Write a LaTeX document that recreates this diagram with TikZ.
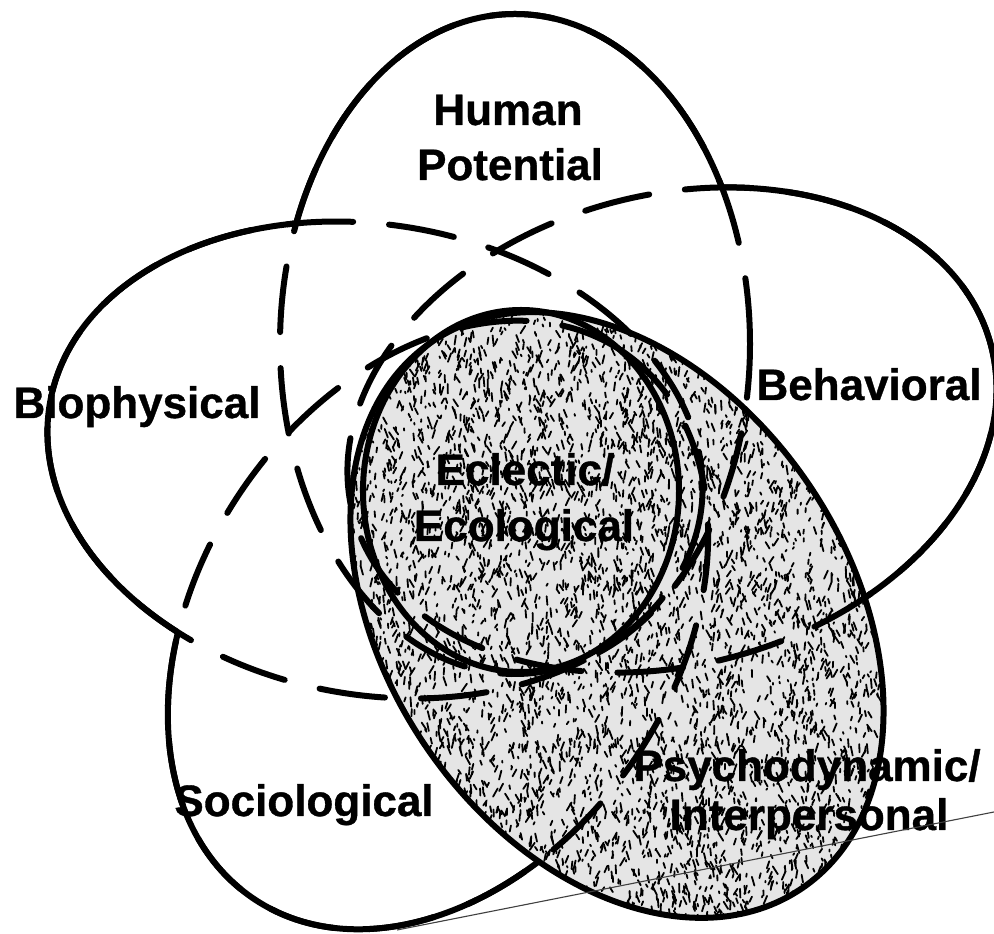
\documentclass[tikz,border=0pt]{standalone}
\usepackage{fontspec}
\setmainfont[BoldFeatures={FakeBold=0.8}]{Liberation Sans}
\newcommand\mySpeckle[5]{%
  \foreach \k in {1,...,#5}{%
    \pgfmathsetmacro\spx{#1+#2*rnd}%
    \pgfmathsetmacro\spy{#3+#4*rnd}%
    \pgfmathsetmacro\spa{55+70*rnd}%
    \pgfmathsetmacro\spl{1.5+8*rnd}%
    \draw[speck] (\spx,\spy) -- ++(\spa:\spl);
  }%
}
\newcommand\ellHP{(515,590) ellipse [x radius=235, y radius=330]}
\newcommand\ellBE{(672,504) ellipse [x radius=330, y radius=235]}
\newcommand\ellPS{(617,319) ellipse [x radius=330, y radius=232]}
\newcommand\ellSO{(438,309) ellipse [x radius=330, y radius=238]}
\newcommand\ellBI{(375,474) ellipse [x radius=330, y radius=235]}
\newcommand\ellCI{(521,443) ellipse [x radius=158, y radius=181]}
% clockwise frame: with the counter-clockwise ellipse it clips to the outside
\newcommand\bigR{(-3000,-3000) -- (-3000,4000) -- (4000,4000) -- (4000,-3000) -- cycle}
\begin{document}
\begin{tikzpicture}[x=1pt,y=1pt,
  outline/.style={line width=6pt},
  dashline/.style={line width=6pt, line cap=round, dash pattern=on 66pt off 36pt},
  speck/.style={line width=1.8pt, line cap=round, black},
  shadebase/.style={fill=black!10},
  lbl/.style={font=\bfseries\fontsize{44}{50}\selectfont, inner sep=0pt, anchor=base},
  rBE/.style={rotate around={15:(672,504)}},
  rPS/.style={rotate around={-56:(617,319)}},
  rSO/.style={rotate around={56:(438,309)}},
  rBI/.style={rotate around={-10:(375,474)}},
  scan/.style={line width=1.1pt, black!75}
]
\useasboundingbox (0,0) rectangle (994,934);
\fill[white] (0,0) rectangle (994,934);
\pgfmathsetseed{4711}

% shaded region: central circle and Psychodynamic ellipse
\begin{scope}
  \clip \ellCI;
  \path[shadebase] \ellCI;
  \mySpeckle{360}{322}{258}{370}{2000}
\end{scope}
\begin{scope}
  \clip[rPS] \ellPS;
  \clip \ellCI \bigR;
  \path[shadebase] (340,0) rectangle (900,640);
  \mySpeckle{350}{535}{5}{630}{5600}
\end{scope}

% dashed inner parts
\draw[dashline] \ellHP;
\draw[dashline, rBE] \ellBE;
\draw[dashline, rSO] \ellSO;
\draw[dashline, rBI] \ellBI;

% solid outer parts
\begin{scope}
  \clip[rBE] \ellBE \bigR;
  \clip[rBI] \ellBI \bigR;
  \clip[rSO] \ellSO \bigR;
  \clip[rPS] \ellPS \bigR;
  \draw[outline] \ellHP;
\end{scope}
\begin{scope}
  \clip \ellHP \bigR;
  \clip[rBI] \ellBI \bigR;
  \clip[rSO] \ellSO \bigR;
  \clip[rPS] \ellPS \bigR;
  \draw[outline, rBE] \ellBE;
\end{scope}
\begin{scope}
  \clip \ellHP \bigR;
  \clip[rBE] \ellBE \bigR;
  \clip[rSO] \ellSO \bigR;
  \clip[rPS] \ellPS \bigR;
  \draw[outline, rBI] \ellBI;
\end{scope}
\begin{scope}
  \clip \ellHP \bigR;
  \clip[rBE] \ellBE \bigR;
  \clip[rBI] \ellBI \bigR;
  \clip[rPS] \ellPS \bigR;
  \draw[outline, rSO] \ellSO;
\end{scope}
\draw[outline, rPS] \ellPS;
\draw[outline] \ellCI;

% labels
\node[lbl] (hum) at (508,809) {Human};
\node[lbl] (pot) at (510,754) {Potential};
\node[lbl] (bio) at (137,516) {Biophysical};
\node[lbl] (beh) at (869,534) {Behavioral};
\node[lbl] (ecl) at (525,449) {Eclectic/};
\node[lbl] (eco) at (524,393) {Ecological};
\node[lbl] (soc) at (304,118) {Sociological};
\node[lbl] (psy) at (807,153) {Psychodynamic/};
\node[lbl] (int) at (809,104) {Interpersonal};

% thin scan line
\coordinate (s1) at (397,4);
\coordinate (s2) at (994,122);
\draw[scan] (s1) -- (s2);
\end{tikzpicture}
\end{document}
